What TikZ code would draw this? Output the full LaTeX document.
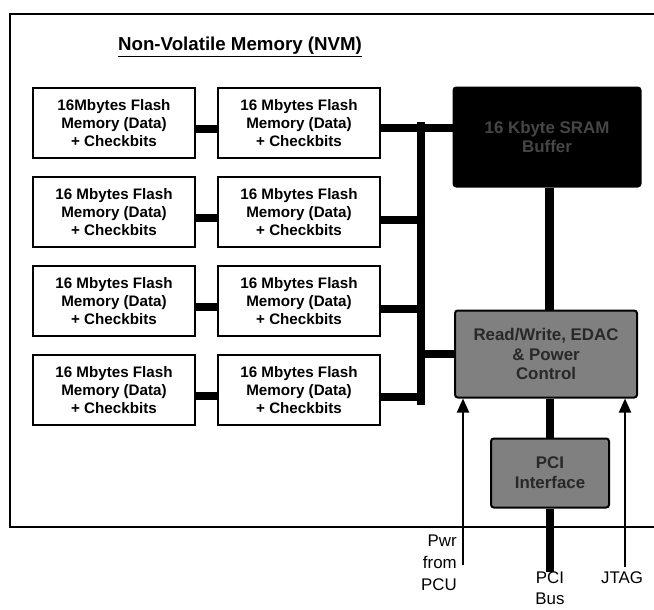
\documentclass[tikz,border=0pt]{standalone}
\usepackage{fontspec}
\setmainfont{Liberation Sans}
\usetikzlibrary{arrows.meta}
\definecolor{ctlgray}{RGB}{128,128,128}
\definecolor{inkgray}{RGB}{40,40,40}
\definecolor{dimgray}{RGB}{70,70,70}
\tikzset{
  flash/.style={rectangle, draw, line width=0.5mm, minimum width=40.5mm, minimum height=17.5mm, align=center, inner sep=0pt, font=\bfseries\fontsize{10.8}{13}\selectfont},
  darkblock/.style={rectangle, draw, line width=0.5mm, rounded corners=2pt, align=center, inner sep=0pt, font=\bfseries\fontsize{12}{14}\selectfont},
  bus/.style={line width=2.2mm},
  wire/.style={line width=2mm},
  sigarrow/.style={-{Triangle[length=3.5mm, width=3mm]}, line width=0.5mm},
  frame/.style={line width=0.55mm},
  lbl/.style={font=\fontsize{12}{15.5}\selectfont, inner sep=0pt}
}
\begin{document}
\begin{tikzpicture}[x=0.25mm, y=-0.25mm]
  \useasboundingbox (0,0) rectangle (654,609);
  % NVM frame
  \draw[frame] (654,14) -- (10,14) -- (10,527) -- (654,527);
  \node[font=\bfseries\fontsize{13.3}{15}\selectfont] (title) at (240,47) {\underline{Non-Volatile Memory (NVM)}};

  % Flash banks
  \node[flash] (f11) at (114,123) {16Mbytes Flash\\Memory (Data)\\+ Checkbits};
  \node[flash] (f12) at (299,123) {16 Mbytes Flash\\Memory (Data)\\+ Checkbits};
  \node[flash] (f21) at (114,212) {16 Mbytes Flash\\Memory (Data)\\+ Checkbits};
  \node[flash] (f22) at (299,212) {16 Mbytes Flash\\Memory (Data)\\+ Checkbits};
  \node[flash] (f31) at (114,301) {16 Mbytes Flash\\Memory (Data)\\+ Checkbits};
  \node[flash] (f32) at (299,301) {16 Mbytes Flash\\Memory (Data)\\+ Checkbits};
  \node[flash] (f41) at (114,390) {16 Mbytes Flash\\Memory (Data)\\+ Checkbits};
  \node[flash] (f42) at (299,390) {16 Mbytes Flash\\Memory (Data)\\+ Checkbits};

  % Controller side
  \node[darkblock, fill=black, text=dimgray, minimum width=46.75mm, minimum height=24.75mm] (buf) at (547,137) {16 Kbyte SRAM\\Buffer};
  \node[darkblock, fill=ctlgray, text=inkgray, minimum width=45.5mm, minimum height=21.75mm] (ctl) at (546,354) {Read/Write, EDAC\\\& Power\\Control};
  \node[darkblock, fill=ctlgray, text=inkgray, minimum width=29.5mm, minimum height=17.25mm] (pci) at (550,473) {PCI\\Interface};

  % Data bus
  \coordinate (bustop) at (421,122);
  \coordinate (busbot) at (421,405);
  \draw[bus] (bustop) -- (busbot);
  \draw[wire] ([yshift=-1.5mm]f11.east) -- ([yshift=-1.5mm]f12.west);
  \draw[wire] ([yshift=-1.5mm]f21.east) -- ([yshift=-1.5mm]f22.west);
  \draw[wire] ([yshift=-1.5mm]f31.east) -- ([yshift=-1.5mm]f32.west);
  \draw[wire] ([yshift=-1.5mm]f41.east) -- ([yshift=-1.5mm]f42.west);
  \draw[wire] ([yshift=-1.2mm]f12.east) -- ([yshift=-1.2mm]f12.east -| buf.west);
  \draw[wire] ([yshift=-2mm]f22.east) -- ([yshift=-2mm]f22.east -| bustop);
  \draw[wire] ([yshift=-2mm]f32.east) -- ([yshift=-2mm]f32.east -| bustop);
  \draw[wire] ([yshift=-1.8mm]f42.east) -- ([yshift=-1.8mm]f42.east -| bustop);
  \draw[wire] (bustop |- ctl.west) -- (ctl.west);

  % Controller links
  \draw[bus] ([xshift=0.6mm]buf.south) -- ([xshift=0.6mm]buf.south |- ctl.north);
  \draw[bus] (pci.north |- ctl.south) -- (pci.north);
  \coordinate (pciend) at (550,572);
  \draw[bus] (pci.south) -- (pciend);

  % External signals
  \coordinate (pwrend) at (463,565);
  \coordinate (jtagend) at (625,567);
  \draw[sigarrow] (pwrend) -- (pwrend |- ctl.south);
  \draw[sigarrow] (jtagend) -- (jtagend |- ctl.south);
  \node[lbl, align=right, anchor=north east] (pwr) at (457,535) {Pwr\\from\\PCU};
  \node[lbl, align=center, anchor=north] (pcibus) at (550,571) {PCI\\Bus};
  \node[lbl, anchor=north] (jtag) at (622,571) {JTAG};
\end{tikzpicture}
\end{document}
